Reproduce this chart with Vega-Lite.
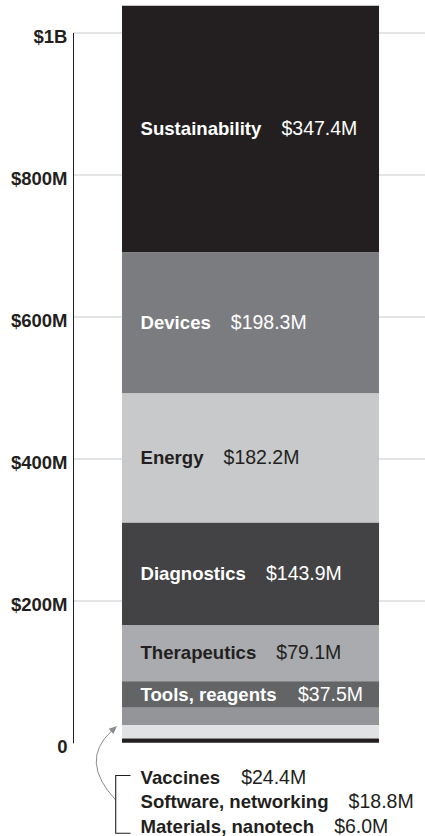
{
  "$schema": "https://vega.github.io/schema/vega-lite/v6.json",
  "width": 352,
  "height": 710.3,
  "autosize": {"type": "none"},
  "padding": {"left": 73, "top": 32.5, "right": 0, "bottom": 93.2},
  "background": "white",
  "config": {"view": {"stroke": null}, "font": "Liberation Sans"},
  "datasets": {
    "funding": [
      {"name": "Sustainability", "amount": 347.4},
      {"name": "Devices", "amount": 198.3},
      {"name": "Energy", "amount": 182.2},
      {"name": "Diagnostics", "amount": 143.9},
      {"name": "Therapeutics", "amount": 79.1},
      {"name": "Tools, reagents", "amount": 37.5},
      {"name": "Vaccines", "amount": 24.4},
      {"name": "Software, networking", "amount": 18.8},
      {"name": "Materials, nanotech", "amount": 6.0}
    ]
  },
  "data": {"name": "funding"},
  "resolve": {"scale": {"y": "independent"}},
  "layer": [
    {
      "layer": [
        {
          "mark": {"type": "bar"},
          "encoding": {
            "x": {"datum": "all", "type": "nominal", "scale": {"paddingInner": 0, "paddingOuter": 0.1848, "align": 0.516}, "axis": null},
            "y": {
              "field": "amount", "type": "quantitative", "stack": "zero",
              "scale": {"domain": [0, 1000], "nice": false, "zero": true},
              "axis": {
                "values": [0, 200, 400, 600, 800, 1000],
                "labelExpr": "datum.value == 0 ? '0' : datum.value == 1000 ? '$1B' : '$' + datum.value + 'M'",
                "title": null,
                "ticks": false,
                "labelPadding": 6,
                "labelFont": "Liberation Sans",
                "labelFontWeight": "bold",
                "labelFontSize": 18.5,
                "labelColor": "#231f20",
                "labelOffset": 4,
                "labelBaseline": "middle",
                "domainColor": "#231f20",
                "domainWidth": 1,
                "grid": true,
                "gridColor": "#c8c9cc",
                "gridWidth": 1,
                "gridOpacity": {"condition": {"test": "datum.value == 0", "value": 0}, "value": 1}
              }
            },
            "color": {
              "field": "name", "type": "nominal",
              "scale": {
                "domain": ["Sustainability", "Devices", "Energy", "Diagnostics", "Therapeutics", "Tools, reagents", "Vaccines", "Software, networking", "Materials, nanotech"],
                "range": ["#231f20", "#7b7c7f", "#c8c9cb", "#434244", "#a9abae", "#636466", "#939598", "#e1e2e3", "#231f20"]
              },
              "legend": null
            },
            "order": {"field": "amount", "type": "quantitative", "sort": "ascending"}
          }
        },
        {
          "mark": {"type": "text", "align": "left", "baseline": "middle", "dx": 18.5, "font": "Liberation Sans", "fontWeight": "bold", "fontSize": 18.6},
          "encoding": {
            "x": {"datum": "all", "type": "nominal", "bandPosition": 0},
            "y": {"field": "amount", "type": "quantitative", "stack": "zero", "bandPosition": 0.5},
            "detail": {"field": "name", "type": "nominal"},
            "order": {"field": "amount", "type": "quantitative", "sort": "ascending"},
            "text": {"condition": {"test": "datum.amount < 30", "value": ""}, "field": "name", "type": "nominal"},
            "color": {"condition": {"test": "datum.name === 'Energy' || datum.name === 'Therapeutics'", "value": "#231f20"}, "value": "#ffffff"}
          }
        },
        {
          "mark": {
            "type": "text", "align": "left", "baseline": "middle", "font": "Liberation Sans", "fontWeight": "normal", "fontSize": 19.5,
            "dx": {"expr": "38.5 + 0.0186 * (556*length(datum.name) - 278*length(replace(datum.name, regexp('[^il, ]', 'g'), '')) - 223*length(replace(datum.name, regexp('[^tf]', 'g'), '')) - 167*length(replace(datum.name, regexp('[^r]', 'g'), '')) + 55*length(replace(datum.name, regexp('[^unbgophdT]', 'g'), '')) + 111*length(replace(datum.name, regexp('[^SEV]', 'g'), '')) + 166*length(replace(datum.name, regexp('[^D]', 'g'), '')) + 222*length(replace(datum.name, regexp('[^w]', 'g'), '')) + 277*length(replace(datum.name, regexp('[^M]', 'g'), '')) + 333*length(replace(datum.name, regexp('[^m]', 'g'), '')))"},
            "text": {"expr": "datum.amount < 30 ? '' : '$' + format(datum.amount, '.1f') + 'M'"}
          },
          "encoding": {
            "x": {"datum": "all", "type": "nominal", "bandPosition": 0},
            "y": {"field": "amount", "type": "quantitative", "stack": "zero", "bandPosition": 0.5},
            "detail": {"field": "name", "type": "nominal"},
            "order": {"field": "amount", "type": "quantitative", "sort": "ascending"},
            "color": {"condition": {"test": "datum.name === 'Energy' || datum.name === 'Therapeutics'", "value": "#231f20"}, "value": "#ffffff"}
          }
        },
        {
          "transform": [{"filter": "datum.name === 'Software, networking'"}],
          "mark": {"type": "point", "shape": "M-0.126,1.144Q-0.86,0.364,-0.21,-0.236", "size": 10000, "filled": false, "stroke": "#8a8c8f", "strokeWidth": 1, "opacity": 1},
          "encoding": {
            "x": {"datum": "all", "type": "nominal", "bandPosition": 0},
            "y": {"datum": 0, "type": "quantitative"}
          }
        },
        {
          "transform": [{"filter": "datum.name === 'Software, networking'"}],
          "mark": {"type": "point", "shape": "M-0.1,-0.336L-0.174,-0.178L-0.266,-0.282Z", "size": 10000, "filled": true, "color": "#8a8c8f", "strokeWidth": 0, "opacity": 1},
          "encoding": {
            "x": {"datum": "all", "type": "nominal", "bandPosition": 0},
            "y": {"datum": 0, "type": "quantitative"}
          }
        },
        {
          "transform": [{"filter": "datum.name === 'Software, networking'"}],
          "mark": {"type": "point", "shape": "M0.17,0.654H-0.126V1.81H0.17", "size": 10000, "filled": false, "stroke": "#231f20", "strokeWidth": 1.1, "opacity": 1},
          "encoding": {
            "x": {"datum": "all", "type": "nominal", "bandPosition": 0},
            "y": {"datum": 0, "type": "quantitative"}
          }
        }
      ]
    },
    {
      "transform": [{"filter": "datum.amount < 30"}],
      "encoding": {
        "x": {"datum": "all", "type": "nominal", "bandPosition": 0},
        "y": {"field": "name", "type": "nominal", "sort": {"field": "amount", "order": "descending"}, "scale": {"type": "point", "range": [745.5, 794], "padding": 0}, "axis": null}
      },
      "layer": [
        {
          "mark": {"type": "text", "align": "left", "baseline": "middle", "dx": 18.5, "font": "Liberation Sans", "fontWeight": "bold", "fontSize": 18.6, "color": "#231f20"},
          "encoding": {"text": {"field": "name", "type": "nominal"}}
        },
        {
          "mark": {
            "type": "text", "align": "left", "baseline": "middle", "font": "Liberation Sans", "fontWeight": "normal", "fontSize": 19.5, "color": "#231f20",
            "dx": {"expr": "38.5 + 0.0186 * (556*length(datum.name) - 278*length(replace(datum.name, regexp('[^il, ]', 'g'), '')) - 223*length(replace(datum.name, regexp('[^tf]', 'g'), '')) - 167*length(replace(datum.name, regexp('[^r]', 'g'), '')) + 55*length(replace(datum.name, regexp('[^unbgophdT]', 'g'), '')) + 111*length(replace(datum.name, regexp('[^SEV]', 'g'), '')) + 166*length(replace(datum.name, regexp('[^D]', 'g'), '')) + 222*length(replace(datum.name, regexp('[^w]', 'g'), '')) + 277*length(replace(datum.name, regexp('[^M]', 'g'), '')) + 333*length(replace(datum.name, regexp('[^m]', 'g'), '')))"},
            "text": {"expr": "'$' + format(datum.amount, '.1f') + 'M'"}
          }
        }
      ]
    }
  ]
}
